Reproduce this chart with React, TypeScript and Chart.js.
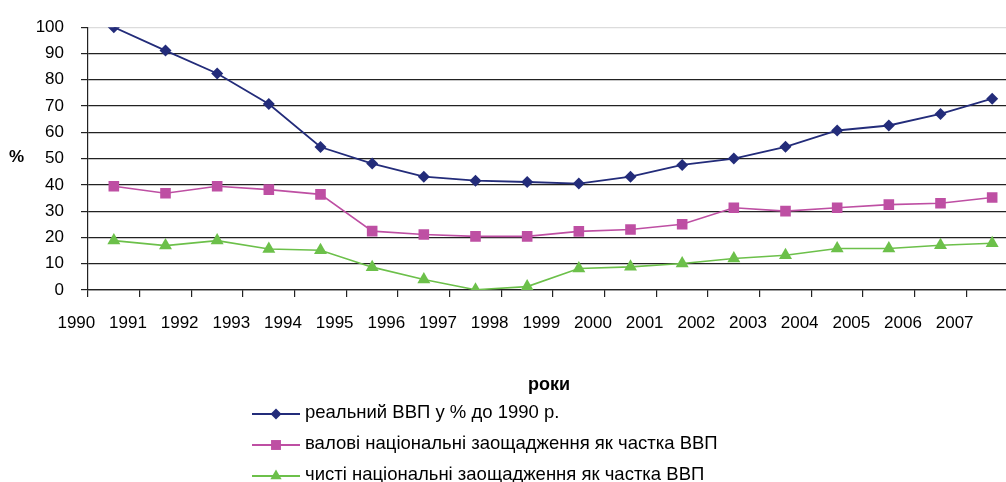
import React, { useEffect, useRef } from "react";
import { Chart, registerables } from "chart.js";

Chart.register(...registerables);

const years = ["1990", "1991", "1992", "1993", "1994", "1995", "1996", "1997", "1998", "1999", "2000", "2001", "2002", "2003", "2004", "2005", "2006", "2007"];
const realGdp = [100, 91.1, 82.4, 70.8, 54.4, 48.1, 43.1, 41.6, 41.1, 40.5, 43.1, 47.6, 50.0, 54.5, 60.7, 62.6, 67.0, 72.8];
const grossSavings = [39.5, 36.8, 39.5, 38.2, 36.4, 22.4, 21.1, 20.4, 20.4, 22.3, 23.0, 25.0, 31.3, 30.0, 31.3, 32.5, 33.0, 35.2];
const netSavings = [18.8, 16.9, 18.8, 15.6, 15.1, 8.7, 4.0, 0.1, 1.3, 8.2, 8.8, 10.1, 12.0, 13.2, 15.8, 15.8, 17.0, 17.8];
const seriesNames = [
  "реальний ВВП у % до 1990 р.",
  "валові національні заощадження як частка ВВП",
  "чисті національні заощадження як частка ВВП",
];
const yTicks = [0, 10, 20, 30, 40, 50, 60, 70, 80, 90, 100];

const FONT = "'Liberation Sans', Arial, sans-serif";

function drawMarker(ctx: CanvasRenderingContext2D, style: string, x: number, y: number, r: number) {
  ctx.beginPath();
  if (style === "rectRot") {
    ctx.moveTo(x, y - r);
    ctx.lineTo(x + r, y);
    ctx.lineTo(x, y + r);
    ctx.lineTo(x - r, y);
  } else if (style === "rect") {
    const s = r * Math.SQRT1_2;
    ctx.rect(x - s, y - s, 2 * s, 2 * s);
  } else {
    const w = (r * Math.sqrt(3)) / 2;
    ctx.moveTo(x, y - r);
    ctx.lineTo(x + w, y + r / 2);
    ctx.lineTo(x - w, y + r / 2);
  }
  ctx.closePath();
  ctx.fill();
}

const overlayPlugin = {
  id: "overlay",
  afterDraw(chart: any) {
    const ctx = chart.ctx;
    ctx.save();
    ctx.fillStyle = "#000";
    ctx.font = `bold 17px ${FONT}`;
    ctx.textBaseline = "middle";
    ctx.textAlign = "left";
    ctx.fillText("%", 9, 157);
    ctx.font = `bold 18px ${FONT}`;
    ctx.textAlign = "center";
    ctx.fillText("роки", 549, 385);
    const rows = [414, 445, 476];
    chart.data.datasets.forEach((ds: any, i: number) => {
      const y = rows[i];
      ctx.strokeStyle = ds.borderColor;
      ctx.lineWidth = 1.8;
      ctx.beginPath();
      ctx.moveTo(252, y);
      ctx.lineTo(300, y);
      ctx.stroke();
      ctx.fillStyle = ds.backgroundColor;
      const r = i === 0 ? 5.5 : i === 1 ? 7 : 6.5;
      drawMarker(ctx, ds.pointStyle, 276, y, r);
      ctx.fillStyle = "#000";
      ctx.font = `18.5px ${FONT}`;
      ctx.textAlign = "left";
      ctx.textBaseline = "middle";
      ctx.fillText(ds.label, 305, y - 1);
    });
    ctx.restore();
  },
};

export default function App() {
  const ref = useRef<HTMLCanvasElement>(null);
  useEffect(() => {
    if (!ref.current) return;
    const chart = new Chart(ref.current, {
      type: "line",
      data: {
        labels: years,
        datasets: [
          {
            label: seriesNames[0],
            data: realGdp,
            borderColor: "#232C7A",
            backgroundColor: "#232C7A",
            borderWidth: 1.8,
            pointStyle: "rectRot",
            pointRadius: 6,
            pointBorderWidth: 0,
          },
          {
            label: seriesNames[1],
            data: grossSavings,
            borderColor: "#BE4FA3",
            backgroundColor: "#BE4FA3",
            borderWidth: 1.6,
            pointStyle: "rect",
            pointRadius: 7.5,
            pointBorderWidth: 0,
          },
          {
            label: seriesNames[2],
            data: netSavings,
            borderColor: "#6CC04A",
            backgroundColor: "#6CC04A",
            borderWidth: 1.6,
            pointStyle: "triangle",
            pointRadius: 7.5,
            pointBorderWidth: 0,
          },
        ],
      },
      options: {
        animation: false,
        responsive: false,
        maintainAspectRatio: false,
        layout: { padding: { top: 26, right: 22, bottom: 152, left: 0 } },
        plugins: { legend: { display: false }, tooltip: { enabled: false } },
        scales: {
          x: {
            type: "category",
            offset: true,
            grid: {
              display: true,
              offset: true,
              drawOnChartArea: false,
              drawTicks: true,
              tickLength: 7,
              color: "#222",
              lineWidth: 1.2,
            },
            border: { display: true, color: "#222", width: 1.2 },
            ticks: {
              color: "#000",
              font: { family: FONT, size: 17 },
              labelOffset: -37.5,
              padding: 16,
              maxRotation: 0,
              autoSkip: false,
            },
            afterFit: (scale: any) => {
              scale.height = 40;
            },
          },
          y: {
            min: 0,
            max: 100,
            afterBuildTicks: (scale: any) => {
              scale.ticks = yTicks.map((v) => ({ value: v }));
            },
            grid: {
              color: (c: any) => (c.tick && c.tick.value === 100 ? "#dcdcdc" : "#222"),
              tickColor: "#222",
              lineWidth: 1.2,
              drawTicks: true,
              tickLength: 7,
            },
            border: { display: true, color: "#222", width: 1.2 },
            ticks: {
              color: "#000",
              font: { family: FONT, size: 17 },
              padding: 17,
            },
            afterFit: (scale: any) => {
              scale.width = 88;
            },
          },
        },
      },
      plugins: [overlayPlugin],
    } as any);
    return () => chart.destroy();
  }, []);
  return (
    <div style={{ position: "fixed", left: 0, top: 0, width: 1006, height: 482, overflow: "hidden", background: "#fff" }}>
      <canvas ref={ref} width={1040} height={482} style={{ width: 1040, height: 482, display: "block" }} />
    </div>
  );
}
